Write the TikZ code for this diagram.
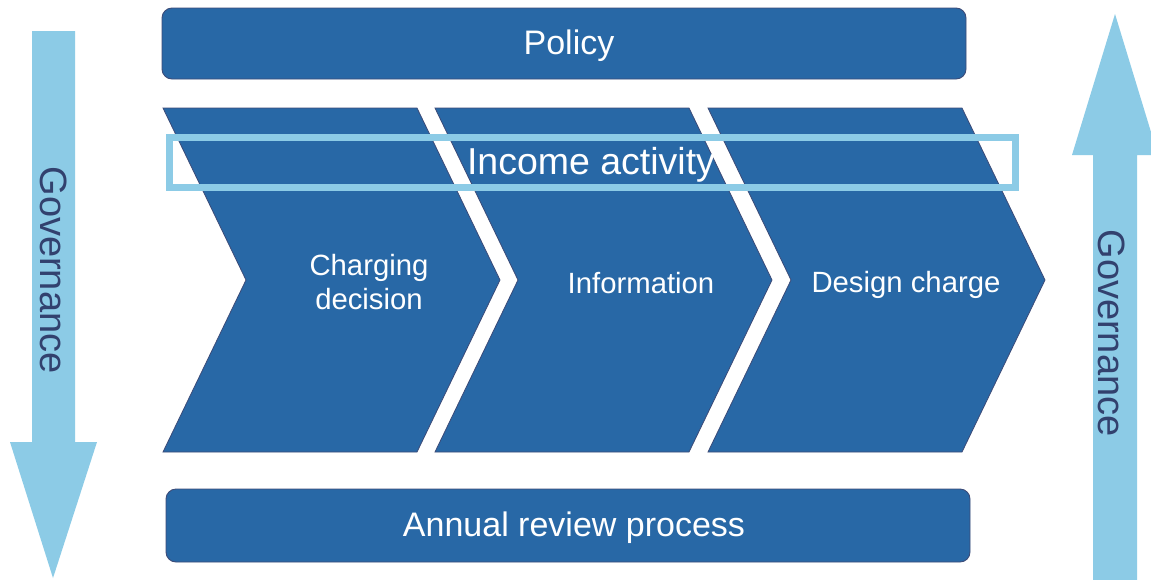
\documentclass[tikz,border=0pt]{standalone}
\usepackage{fontspec}
\setmainfont{Liberation Sans}
\begin{document}
\definecolor{chevblue}{HTML}{2868A6}
\definecolor{skyblue}{HTML}{8CCBE6}
\definecolor{edgenavy}{HTML}{3C4B78}
\definecolor{govtext}{HTML}{32416E}
\begin{tikzpicture}[x=1pt,y=-1pt,
  bar/.style={draw=edgenavy,line width=0.9pt,fill=chevblue,rounded corners=10pt,inner sep=0pt},
  barlabel/.style={text=white,inner sep=0pt,font=\fontsize{34}{38}\selectfont},
  chevron/.style={draw=edgenavy,line width=0.8pt,fill=chevblue},
  stagelabel/.style={text=white,align=center,inner sep=0pt,
    font=\fontsize{29.3}{34}\selectfont},
  govarrow/.style={fill=skyblue,draw=none},
  govlabel/.style={text=govtext,inner sep=0pt,rotate=-90,
    font=\fontsize{38}{42}\selectfont},
  band/.style={draw=skyblue,line width=7pt,inner sep=0pt},
  bandlabel/.style={text=white,inner sep=0pt,font=\fontsize{37.5}{42}\selectfont}]
\clip (0,0) rectangle (1151,579);
\fill[white] (0,0) rectangle (1151,579);

% governance arrows
\fill[govarrow] (32,31) -- (75,31) -- (75,442) -- (97,442) -- (53,578)
  -- (10,442) -- (32,442) -- cycle;
\fill[govarrow] (1093,600) -- (1093,155) -- (1072,155) -- (1115,14)
  -- (1158,155) -- (1137,155) -- (1137,600) -- cycle;
\node[govlabel] (govL) at (54,270) {Governance};
\node[govlabel] (govR) at (1112,333) {Governance};

% top and bottom bars
\node[bar,minimum width=804pt,minimum height=71pt] (policy) at (564,43.5) {};
\node[barlabel] (policyText) at (569,46) {Policy};
\node[bar,minimum width=804pt,minimum height=73pt] (review) at (568,525.5) {};
\node[barlabel] (reviewText) at (574,527.5) {Annual review process};

% process chevrons
\foreach \dx in {0,272,545}{
  \draw[chevron] (163+\dx,108) -- (417+\dx,108) -- (500+\dx,280)
    -- (417+\dx,452) -- (163+\dx,452) -- (246+\dx,280) -- cycle;
}
\node[stagelabel] (charging) at (369,282) {Charging\\decision};
\node[stagelabel] (info) at (641,283) {Information};
\node[stagelabel] (design) at (906,284.5) {Design charge};

% income activity band across the chevrons
\node[band,minimum width=845.5pt,minimum height=50pt] (income) at (592.25,162.5) {};
\node[bandlabel] (incomeText) at (591,164.5) {Income activity};
\end{tikzpicture}
\end{document}
